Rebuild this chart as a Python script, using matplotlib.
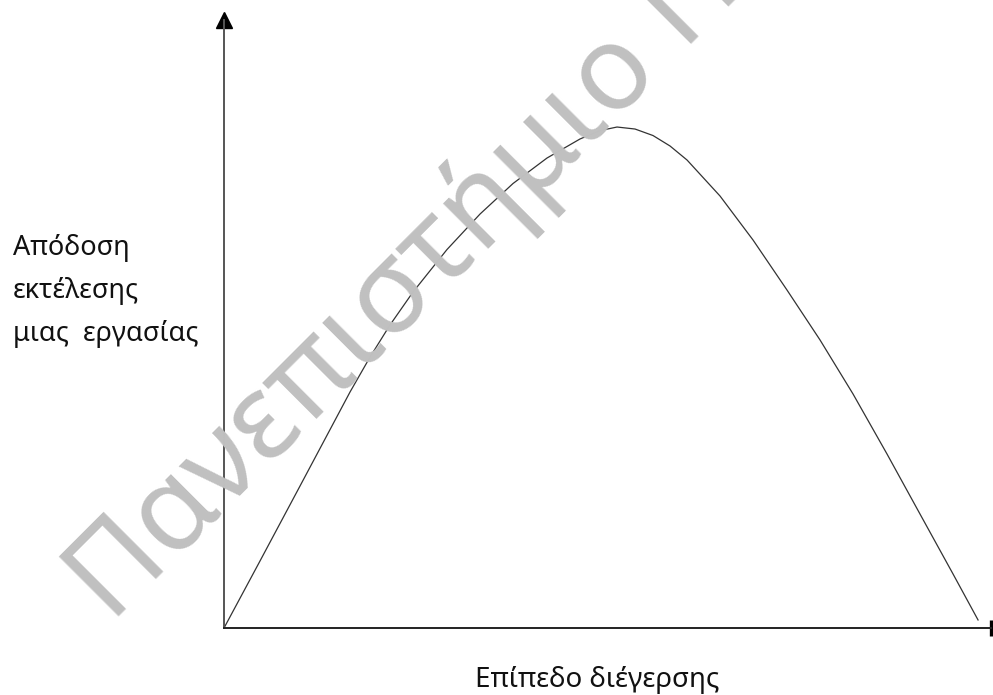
import matplotlib.pyplot as plt

plt.rcParams['font.family'] = ['Noto Sans', 'DejaVu Sans']

# καμπύλη απόδοσης - διέγερσης (τιμές από την εικόνα, κλίμακα 0-100)
arousal = [0, 4.69, 9.91, 16.43, 19.04, 21.64, 24.64, 29.07, 33.38, 37.68,
           42.11, 46.41, 49.02, 51.24, 53.59, 55.93, 58.15, 60.37, 64.67,
           68.97, 73.40, 77.71, 82.01, 86.44, 90.74, 95.05, 98.31]
performance = [0, 11.02, 23.36, 38.82, 44.57, 49.84, 55.26, 62.25, 68.09, 73.11,
               77.30, 80.43, 81.81, 82.40, 82.07, 81.00, 79.28, 76.97, 71.05,
               63.82, 55.59, 47.37, 38.49, 28.62, 18.75, 8.88, 1.32]

y_label = "Απόδοση\nεκτέλεσης\nμιας  εργασίας"
x_label = "Επίπεδο διέγερσης"
watermark = "Πανεπιστήμιο Πειραιώς"

fig = plt.figure(figsize=(9.93, 6.95), dpi=100)

# υδατογράφημα στο φόντο
fig.text(0.112, 0.102, watermark, fontsize=85, color="#c0c0c0",
         rotation=45, rotation_mode="anchor", ha="left", va="baseline", zorder=0)

ax = fig.add_axes([0.2256, 0.0964, 0.7724, 0.8748])
ax.patch.set_alpha(0)
ax.set_xlim(0, 100)
ax.set_ylim(0, 100)
ax.spines["top"].set_visible(False)
ax.spines["right"].set_visible(False)
ax.spines["left"].set_color("#555555")
ax.spines["left"].set_linewidth(1.4)
ax.spines["bottom"].set_color("#222222")
ax.spines["bottom"].set_linewidth(1.4)
ax.set_xticks([])
ax.set_yticks([])

ax.plot(arousal, performance, color="#333333", linewidth=0.9)

# βέλος στον άξονα y και γραμμή τέλους στον άξονα x
ax.plot([0], [100], marker="^", markersize=11.5, color="black", clip_on=False)
ax.plot([100], [0], marker="|", markersize=12, markeredgewidth=2.4,
        color="black", clip_on=False)

fig.text(13 / 993, 1 - 291 / 695, y_label, fontsize=19.5, ha="left", va="center",
         linespacing=1.72, color="#111111")
fig.text(597 / 993, 1 - 680 / 695, x_label, fontsize=20, ha="center", va="center",
         color="#111111")

plt.savefig("out.png", dpi=100)
plt.close()
